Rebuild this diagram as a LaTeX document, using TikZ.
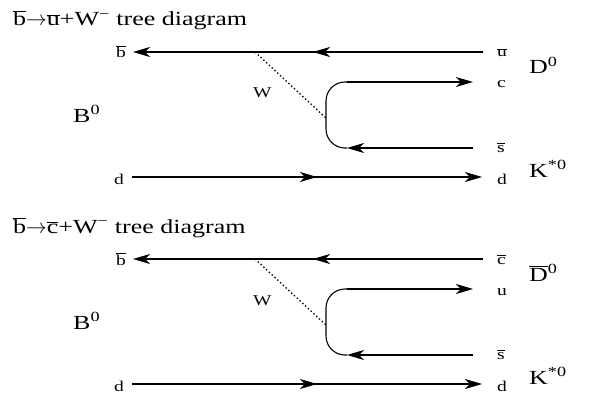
\documentclass[tikz,border=0pt]{standalone}
\usepackage{fontspec}
\setmainfont{Liberation Serif}[FakeStretch=1.3]
\usetikzlibrary{arrows.meta,positioning,decorations.markings}
\newcommand{\ob}[1]{\ensuremath{\overline{\mbox{#1}}}}
\tikzset{
    fermion/.style={line width=1.1pt, -{Stealth[length=17pt,width=10pt,inset=5pt]}},
    fermionplain/.style={line width=1.1pt},
    midarrow/.style={postaction={decorate}, decoration={markings, mark=at position #1 with {\arrow{Stealth[length=17pt,width=10pt,inset=5pt]}}}},
    boson/.style={line width=1.3pt, dash pattern=on 1.4pt off 2.4pt},
    quark/.style={inner sep=0pt, font=\fontsize{15}{18}\selectfont},
    meson/.style={inner sep=0pt, font=\fontsize{20}{24}\selectfont},
    heading/.style={inner sep=0pt, font=\fontsize{20}{24}\selectfont}
}
\begin{document}
\begin{tikzpicture}[x=1pt, y=-1pt]
    \useasboundingbox (0,0) rectangle (592,396);
    % b -> u + W tree diagram
    \node[heading, anchor=base west] (title1) at (13,26) {\ob{b}$\rightarrow$\ob{u}+W\textsuperscript{−} tree diagram};
    \coordinate (ur1) at (483,52);
    \coordinate (bl1) at (133,52);
    \coordinate (cl1) at (347,82);
    \coordinate (cr1) at (473,82);
    \coordinate (sl1) at (347,148);
    \coordinate (sr1) at (473,148);
    \coordinate (dl1) at (132,177);
    \coordinate (dr1) at (482,177);
    \coordinate (wa1) at (255,52);
    \coordinate (wb1) at (326,118);
    \node[quark, anchor=base east] (bbar1) at ([xshift=-7pt, yshift=-6pt]bl1) {\ob{b}};
    \node[quark, anchor=base west] (ubar1) at ([xshift=14pt, yshift=-5pt]ur1) {\ob{u}};
    \node[quark, anchor=base west] (c1) at ([xshift=24pt, yshift=-6pt]cr1) {c};
    \node[quark, anchor=base west] (sbar1) at ([xshift=24pt, yshift=-4pt]sr1) {\ob{s}};
    \node[quark, anchor=base east] (dleft1) at ([xshift=-8pt, yshift=-7pt]dl1) {d};
    \node[quark, anchor=base west] (dright1) at ([xshift=15pt, yshift=-7pt]dr1) {d};
    \node[meson, anchor=base west] (B1) at (73,122) {B\textsuperscript{0}};
    \node[meson, anchor=base west] (D1) at (529,74) {D\textsuperscript{0}};
    \node[meson, anchor=base west] (K1) at (529,177) {K\textsuperscript{*0}};
    \node[quark, anchor=base west] (W1) at (253,98) {W};
    \draw[fermion, midarrow=170pt] (ur1) -- (bl1);
    \draw[fermion] (cl1) -- (cr1);
    \draw[fermion] (sr1) -- (sl1);
    \draw[fermionplain, rounded corners=19pt] (cl1) -- (cl1 -| wb1) -- (sl1 -| wb1) -- (sl1);
    \draw[fermion, midarrow=185pt] (dl1) -- (dr1);
    \draw[boson] (wa1) -- (wb1);
    % b -> c + W tree diagram
    \node[heading, anchor=base west] (title2) at (13,233) {\ob{b}$\rightarrow$\ob{c}+W\textsuperscript{−} tree diagram};
    \coordinate (ur2) at (483,259);
    \coordinate (bl2) at (133,259);
    \coordinate (cl2) at (347,289);
    \coordinate (cr2) at (473,289);
    \coordinate (sl2) at (347,355);
    \coordinate (sr2) at (473,355);
    \coordinate (dl2) at (132,384);
    \coordinate (dr2) at (482,384);
    \coordinate (wa2) at (255,259);
    \coordinate (wb2) at (326,325);
    \node[quark, anchor=base east] (bbar2) at ([xshift=-7pt, yshift=-6pt]bl2) {\ob{b}};
    \node[quark, anchor=base west] (cbar2) at ([xshift=14pt, yshift=-5pt]ur2) {\ob{c}};
    \node[quark, anchor=base west] (u2) at ([xshift=24pt, yshift=-6pt]cr2) {u};
    \node[quark, anchor=base west] (sbar2) at ([xshift=24pt, yshift=-4pt]sr2) {\ob{s}};
    \node[quark, anchor=base east] (dleft2) at ([xshift=-8pt, yshift=-7pt]dl2) {d};
    \node[quark, anchor=base west] (dright2) at ([xshift=15pt, yshift=-7pt]dr2) {d};
    \node[meson, anchor=base west] (B2) at (73,329) {B\textsuperscript{0}};
    \node[meson, anchor=base west] (D2) at (529,281) {\ob{D}\textsuperscript{0}};
    \node[meson, anchor=base west] (K2) at (529,384) {K\textsuperscript{*0}};
    \node[quark, anchor=base west] (W2) at (253,305) {W};
    \draw[fermion, midarrow=170pt] (ur2) -- (bl2);
    \draw[fermion] (cl2) -- (cr2);
    \draw[fermion] (sr2) -- (sl2);
    \draw[fermionplain, rounded corners=19pt] (cl2) -- (cl2 -| wb2) -- (sl2 -| wb2) -- (sl2);
    \draw[fermion, midarrow=185pt] (dl2) -- (dr2);
    \draw[boson] (wa2) -- (wb2);
\end{tikzpicture}
\end{document}
